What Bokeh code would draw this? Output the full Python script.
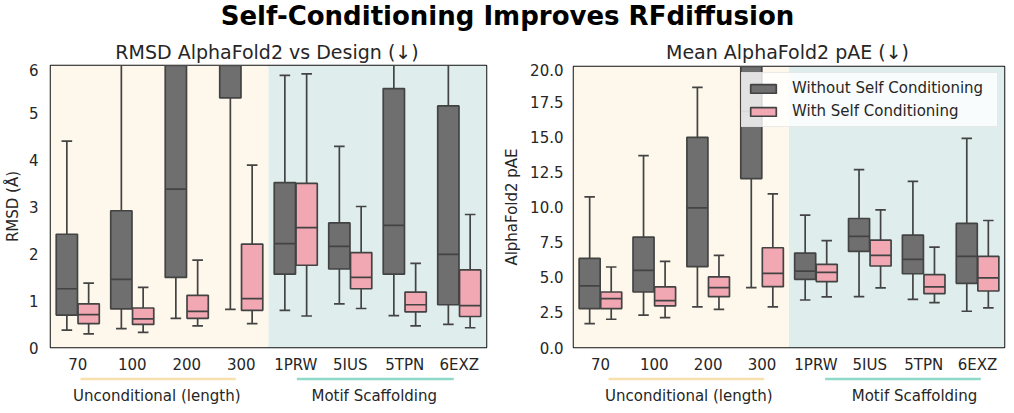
import numpy as np
from bokeh.plotting import figure
from bokeh.models import (FactorRange, Range1d, ColumnDataSource, BoxAnnotation,
                          FixedTicker, PrintfTickFormatter)
from bokeh.layouts import column, row
from bokeh.transform import dodge
from bokeh.core.properties import value
from bokeh.embed import file_html
from bokeh.resources import INLINE

# ---------------- data ----------------
suptitle = "Self-Conditioning Improves RFdiffusion"
panel_titles = ["RMSD AlphaFold2 vs Design (\u2193)", "Mean AlphaFold2 pAE (\u2193)"]
cats = ["70", "100", "200", "300", "1PRW", "5IUS", "5TPN", "6EXZ"]
groups = ["Unconditional (length)", "Motif Scaffolding"]
series = ["Without Self Conditioning", "With Self Conditioning"]

# RMSD AlphaFold2 vs Design
rmsd_wo_lo = [0.37, 0.40, 0.62, 0.81, 0.79, 0.93, 0.68, 0.49]
rmsd_wo_q1 = [0.69, 0.82, 1.49, 5.31, 1.56, 1.67, 1.56, 0.91]
rmsd_wo_md = [1.25, 1.45, 3.37, 8.50, 2.21, 2.15, 2.60, 1.98]
rmsd_wo_q3 = [2.41, 2.91, 7.50, 12.0, 3.51, 2.65, 5.51, 5.14]
rmsd_wo_hi = [4.39, 7.50, 14.0, 20.0, 5.79, 4.28, 8.00, 7.50]

rmsd_w_lo = [0.29, 0.32, 0.46, 0.51, 0.67, 0.83, 0.46, 0.42]
rmsd_w_q1 = [0.51, 0.49, 0.62, 0.79, 1.75, 1.25, 0.76, 0.66]
rmsd_w_md = [0.70, 0.61, 0.77, 1.04, 2.55, 1.49, 0.91, 0.89]
rmsd_w_q3 = [0.93, 0.84, 1.11, 2.20, 3.49, 2.02, 1.18, 1.65]
rmsd_w_hi = [1.37, 1.28, 1.86, 3.88, 5.82, 3.00, 1.79, 2.83]

# Mean AlphaFold2 pAE
pae_wo_lo = [1.70, 2.30, 2.89, 4.26, 3.38, 3.62, 3.43, 2.58]
pae_wo_q1 = [2.77, 3.95, 5.75, 12.02, 4.85, 6.84, 5.25, 4.57]
pae_wo_md = [4.38, 5.49, 9.94, 16.8, 5.44, 7.91, 6.27, 6.49]
pae_wo_q3 = [6.34, 7.86, 14.96, 24.0, 6.72, 9.18, 8.00, 8.83]
pae_wo_hi = [10.72, 13.66, 18.51, 30.0, 9.42, 12.66, 11.83, 14.89]

pae_w_lo = [2.01, 2.13, 2.72, 2.89, 3.60, 4.24, 3.20, 2.82]
pae_w_q1 = [2.77, 2.96, 3.62, 4.33, 4.69, 5.80, 3.83, 4.02]
pae_w_md = [3.48, 3.34, 4.26, 5.28, 5.35, 6.56, 4.31, 4.95]
pae_w_q3 = [3.95, 4.31, 5.02, 7.10, 5.92, 7.64, 5.18, 6.49]
pae_w_hi = [5.73, 6.13, 6.56, 10.93, 7.60, 9.80, 7.15, 9.04]

rmsd_ticks = [0, 1, 2, 3, 4, 5, 6]
pae_ticks = [0.0, 2.5, 5.0, 7.5, 10.0, 12.5, 15.0, 17.5, 20.0]

# ---------------- style / layout ----------------
FONT = "DejaVu Sans"
TXT = "#262626"
DARK = "#6f6f6f"
PINK = "#f2a8b3"
EDGE = "#434343"
TAN_BG = "#fdf8eb"
TEAL_BG = "#dfeeed"
TAN_LINE = "#f8e0ae"
TEAL_LINE = "#8fd9c8"
BW = 0.39
OFF = 0.2

P1_W, P1_BL, P1_BR = 500, 47, 14
P2_W, P2_BL, P2_BR = 510, 70, 6
TW, TH = P1_W + P2_W, 63
PH = 313
LH = 30


def add_boxes(p, lo, q1, md, q3, hi, off, color, label=None):
    src = ColumnDataSource(dict(cat=cats, lo=lo, q1=q1, md=md, q3=q3, hi=hi))
    xc = dodge("cat", off, range=p.x_range)
    xl = dodge("cat", off - BW / 2, range=p.x_range)
    xr = dodge("cat", off + BW / 2, range=p.x_range)
    cl = dodge("cat", off - BW / 4, range=p.x_range)
    cr = dodge("cat", off + BW / 4, range=p.x_range)
    p.segment(x0=xc, x1=xc, y0="q3", y1="hi", source=src, line_color=EDGE, line_width=1.7)
    p.segment(x0=xc, x1=xc, y0="lo", y1="q1", source=src, line_color=EDGE, line_width=1.7)
    p.segment(x0=cl, x1=cr, y0="hi", y1="hi", source=src, line_color=EDGE, line_width=1.7)
    p.segment(x0=cl, x1=cr, y0="lo", y1="lo", source=src, line_color=EDGE, line_width=1.7)
    kw = dict(legend_label=label) if label else {}
    p.vbar(x=xc, width=BW, bottom="q1", top="q3", source=src, fill_color=color,
           line_color=EDGE, line_width=1.7, **kw)
    p.segment(x0=xl, x1=xr, y0="md", y1="md", source=src, line_color=EDGE, line_width=1.7)


def make_panel(ylabel, ymax, ticks, fmt, data_wo, data_w, w, h, bl, br, bt, bb, legend):
    p = figure(title=None, x_range=FactorRange(*cats), y_range=Range1d(0, ymax),
               width=w, height=h, min_border_left=bl, min_border_right=br,
               min_border_top=bt, min_border_bottom=bb,
               toolbar_location=None, output_backend="svg")
    p.grid.visible = False
    p.outline_line_color = "#111111"
    p.outline_line_width = 1.5
    p.background_fill_color = "white"
    p.add_layout(BoxAnnotation(left=0, right=4, fill_color=TAN_BG, fill_alpha=1,
                               line_color=None, level="underlay"))
    p.add_layout(BoxAnnotation(left=4, right=8, fill_color=TEAL_BG, fill_alpha=1,
                               line_color=None, level="underlay"))
    add_boxes(p, *data_wo, -OFF, DARK, series[0] if legend else None)
    add_boxes(p, *data_w, OFF, PINK, series[1] if legend else None)

    ya = p.yaxis[0]
    ya.ticker = FixedTicker(ticks=ticks)
    if fmt:
        ya.formatter = PrintfTickFormatter(format=fmt)
    ya.axis_label = ylabel
    ya.axis_label_text_font = FONT
    ya.axis_label_text_font_size = "15px"
    ya.axis_label_text_font_style = "normal"
    ya.axis_label_text_color = TXT
    ya.axis_label_standoff = 6 if legend else 4
    ya.major_label_text_font = FONT
    ya.major_label_text_font_size = "15px"
    ya.major_label_text_color = TXT
    ya.major_label_standoff = 10 if legend else 12
    ya.major_tick_line_color = None
    ya.major_tick_out = 0
    ya.major_tick_in = 0
    ya.minor_tick_line_color = None
    ya.minor_tick_out = 0
    ya.axis_line_color = None

    xa = p.xaxis[0]
    xa.major_label_text_font = FONT
    xa.major_label_text_font_size = "15px"
    xa.major_label_text_color = TXT
    xa.major_label_standoff = 8
    xa.major_tick_line_color = None
    xa.major_tick_out = 0
    xa.major_tick_in = 0
    xa.axis_line_color = None

    if legend:
        lg = p.legend[0]
        lg.location = "top_right"
        lg.margin = 6
        lg.label_text_font = FONT
        lg.label_text_font_size = "15px"
        lg.label_text_color = TXT
        lg.glyph_width = 32
        lg.glyph_height = 11
        lg.label_height = 20
        lg.label_width = 200
        lg.label_standoff = 13
        lg.spacing = 3
        lg.padding = 5
        lg.background_fill_color = "white"
        lg.background_fill_alpha = 0.8
        lg.border_line_color = "#d6d6d6"
        lg.border_line_width = 1
    return p


def make_labels(p, w, bl, br, line_spans, label_pos):
    b = figure(title=None, x_range=p.x_range, y_range=Range1d(LH, 0), width=w, height=LH,
               min_border_left=bl, min_border_right=br, min_border_top=0, min_border_bottom=0,
               x_axis_location=None, y_axis_location=None, toolbar_location=None,
               output_backend="svg")
    b.outline_line_color = None
    b.grid.visible = False
    src = ColumnDataSource(dict(x0=[s[0] for s in line_spans], x1=[s[1] for s in line_spans],
                                y=[2.5, 2.5], c=[TAN_LINE, TEAL_LINE]))
    b.segment(x0="x0", x1="x1", y0="y", y1="y", line_color="c", line_width=2.5, source=src)
    tsrc = ColumnDataSource(dict(x=label_pos, y=[19, 19], t=groups))
    b.text(x="x", y="y", text="t", source=tsrc, text_font=value(FONT), text_font_size="15px",
           text_color=TXT, text_align="center", text_baseline="middle")
    return b


p1 = make_panel("RMSD (\u00c5)", 6, rmsd_ticks, None,
                (rmsd_wo_lo, rmsd_wo_q1, rmsd_wo_md, rmsd_wo_q3, rmsd_wo_hi),
                (rmsd_w_lo, rmsd_w_q1, rmsd_w_md, rmsd_w_q3, rmsd_w_hi),
                P1_W, PH, P1_BL, P1_BR, 2, 26, False)
p2 = make_panel("AlphaFold2 pAE", 20, pae_ticks, "%.1f",
                (pae_wo_lo, pae_wo_q1, pae_wo_md, pae_wo_q3, pae_wo_hi),
                (pae_w_lo, pae_w_q1, pae_w_md, pae_w_q3, pae_w_hi),
                P2_W, PH, P2_BL, P2_BR, 3, 27, True)

b1 = make_labels(p1, P1_W, P1_BL, P1_BR, [(0.55, 3.4), (4.52, 7.4)], [1.95, 5.94])
b2 = make_labels(p2, P2_W, P2_BL, P2_BR, [(0.65, 3.54), (4.67, 7.56)], [2.14, 6.33])

# header strip: suptitle and the two panel titles (centred over each frame)
tfig = figure(title=None, x_range=Range1d(0, TW), y_range=Range1d(TH, 0), width=TW, height=TH,
              min_border_left=0, min_border_right=0, min_border_top=0, min_border_bottom=0,
              x_axis_location=None, y_axis_location=None, toolbar_location=None,
              output_backend="svg")
tfig.outline_line_color = None
tfig.grid.visible = False
tfig.text(x=[507], y=[15.5], text=[suptitle], text_font=value(FONT),
          text_font_size="26px", text_font_style="bold", text_color="#000000",
          text_align="center", text_baseline="middle")
c1 = P1_BL + (P1_W - P1_BL - P1_BR) / 2
c2 = P1_W + P2_BL + (P2_W - P2_BL - P2_BR) / 2
tfig.text(x=[c1, c2], y=[51, 51], text=panel_titles, text_font=value(FONT),
          text_font_size="19px", text_color=TXT, text_align="center", text_baseline="middle")

layout = column(tfig, row(column(p1, b1), column(p2, b2)))

open("out.html", "w").write(file_html(layout, INLINE))
